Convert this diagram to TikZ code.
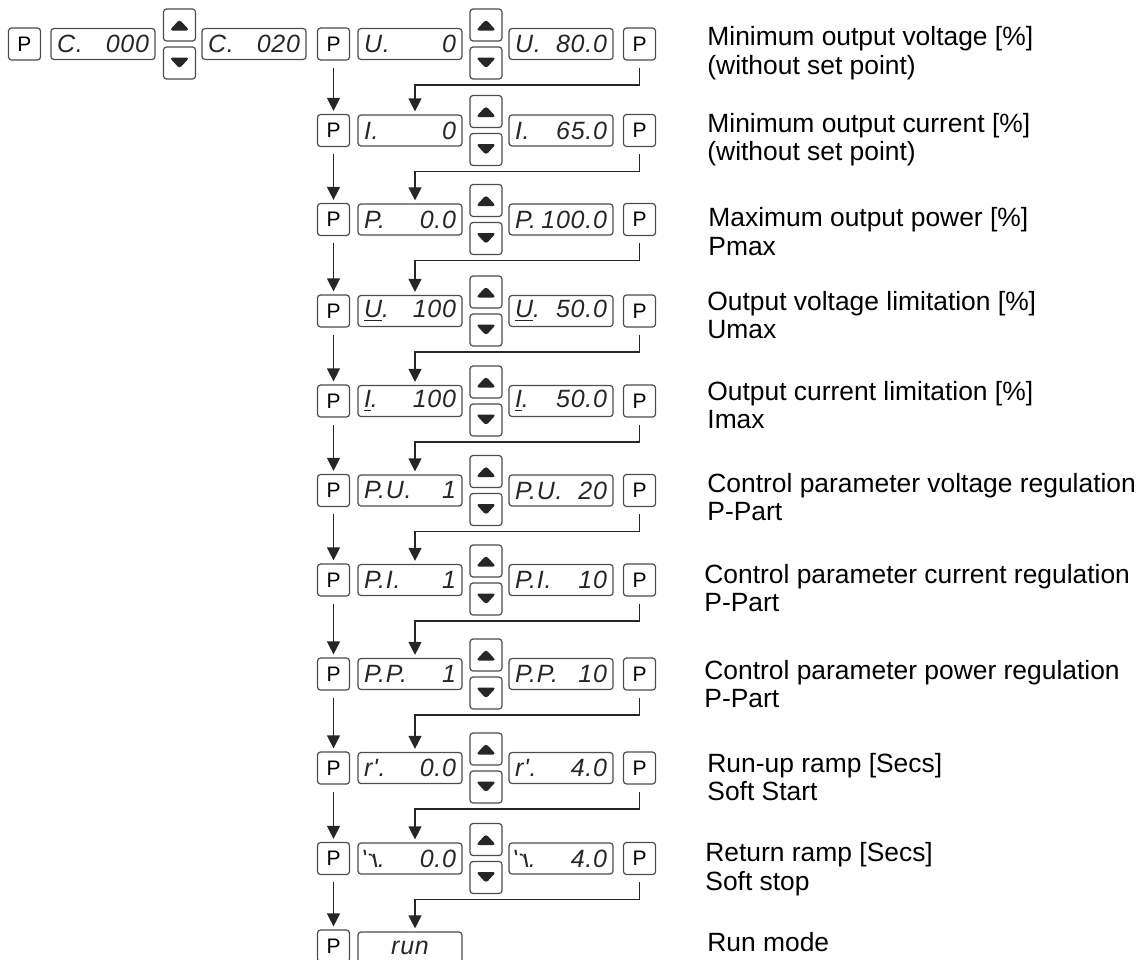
\documentclass[tikz,border=0pt]{standalone}
\usepackage{fontspec}
\setmainfont{Liberation Sans}
\newfontfamily\segfont[LetterSpace=3]{Liberation Sans}
\usepackage{graphicx}
\usetikzlibrary{arrows.meta}

\begin{document}
\begin{tikzpicture}[>={Triangle[length=6.5pt,width=6.5pt]}, x=0.5pt, y=-0.5pt,
  key/.style={draw=black!70, line width=0.6pt, rounded corners=1.5pt,
    minimum width=16pt, minimum height=16pt, inner sep=0pt, font=\fontsize{10.5}{10.5}\selectfont},
  upkey/.style={key, path picture={\fill[black!85]
    ([yshift=2.75pt]path picture bounding box.center) --
    ([xshift=5pt,yshift=-2.75pt]path picture bounding box.center) --
    ([xshift=-5pt,yshift=-2.75pt]path picture bounding box.center) -- cycle;}},
  downkey/.style={key, path picture={\fill[black!85]
    ([yshift=-2.75pt]path picture bounding box.center) --
    ([xshift=5pt,yshift=2.75pt]path picture bounding box.center) --
    ([xshift=-5pt,yshift=2.75pt]path picture bounding box.center) -- cycle;}},
  disp/.style={draw=black!70, line width=0.6pt, rounded corners=1.5pt,
    minimum width=52pt, minimum height=15.5pt, inner xsep=3pt, inner ysep=0pt,
    text width=46pt, align=left, text=black!85,
    font=\segfont\fontsize{12.5}{12.5}\selectfont\itshape},
  flow/.style={->, draw=black!85, line width=0.6pt, shorten <=3.5pt, shorten >=1.5pt},
  note/.style={anchor=base west, align=left, inner sep=0pt,
    font=\fontsize{13.2}{14.25}\selectfont}]
\useasboundingbox (0,0) rectangle (1143,959);

% Code
\node[key] (p0) at (24.5,44) {P};
\node[disp] (c0) at (103,44) {C.\hfill 000};
\node[upkey] (up0) at (179.5,25) {};
\node[downkey] (dn0) at (179.5,63) {};
\node[disp] (c1) at (254,44) {C.\hfill 020};

% Minimum output voltage
\node[key] (pl1) at (333.5,44) {P};
\node[disp] (dA1) at (410,44) {U.\hfill 0};
\node[upkey] (up1) at (486,25) {};
\node[downkey] (dn1) at (486,63) {};
\node[disp] (dB1) at (561,44) {U.\hfill 80.0};
\node[key] (pr1) at (639.5,44) {P};

% Minimum output current
\node[key] (pl2) at (333.5,130.5) {P};
\node[disp] (dA2) at (410,130.5) {I.\hfill 0};
\node[upkey] (up2) at (486,111.5) {};
\node[downkey] (dn2) at (486,149.5) {};
\node[disp] (dB2) at (561,130.5) {I.\hfill 65.0};
\node[key] (pr2) at (639.5,130.5) {P};

% Maximum output power
\node[key] (pl3) at (333.5,219.5) {P};
\node[disp] (dA3) at (410,219.5) {P.\hfill 0.0};
\node[upkey] (up3) at (486,200.5) {};
\node[downkey] (dn3) at (486,238.5) {};
\node[disp] (dB3) at (561,219.5) {\hbox to \linewidth{P.\hfill 100.0}};
\node[key] (pr3) at (639.5,219.5) {P};

% Output voltage limitation
\node[key] (pl4) at (333.5,311) {P};
\node[disp] (dA4) at (410,311) {\underline{U}.\hfill 100};
\node[upkey] (up4) at (486,292) {};
\node[downkey] (dn4) at (486,330) {};
\node[disp] (dB4) at (561,311) {\underline{U}.\hfill 50.0};
\node[key] (pr4) at (639.5,311) {P};

% Output current limitation
\node[key] (pl5) at (333.5,401) {P};
\node[disp] (dA5) at (410,401) {\underline{I}.\hfill 100};
\node[upkey] (up5) at (486,382) {};
\node[downkey] (dn5) at (486,420) {};
\node[disp] (dB5) at (561,401) {\underline{I}.\hfill 50.0};
\node[key] (pr5) at (639.5,401) {P};

% P-Part voltage
\node[key] (pl6) at (333.5,490.5) {P};
\node[disp] (dA6) at (410,490.5) {P.U.\hfill 1};
\node[upkey] (up6) at (486,471.5) {};
\node[downkey] (dn6) at (486,509.5) {};
\node[disp] (dB6) at (561,490.5) {P.U.\hfill 20};
\node[key] (pr6) at (639.5,490.5) {P};

% P-Part current
\node[key] (pl7) at (333.5,580) {P};
\node[disp] (dA7) at (410,580) {P.I.\hfill 1};
\node[upkey] (up7) at (486,561) {};
\node[downkey] (dn7) at (486,599) {};
\node[disp] (dB7) at (561,580) {P.I.\hfill 10};
\node[key] (pr7) at (639.5,580) {P};

% P-Part power
\node[key] (pl8) at (333.5,674) {P};
\node[disp] (dA8) at (410,674) {P.P.\hfill 1};
\node[upkey] (up8) at (486,655) {};
\node[downkey] (dn8) at (486,693) {};
\node[disp] (dB8) at (561,674) {P.P.\hfill 10};
\node[key] (pr8) at (639.5,674) {P};

% Run-up ramp
\node[key] (pl9) at (333.5,768) {P};
\node[disp] (dA9) at (410,768) {r'.\hfill 0.0};
\node[upkey] (up9) at (486,749) {};
\node[downkey] (dn9) at (486,787) {};
\node[disp] (dB9) at (561,768) {r'.\hfill 4.0};
\node[key] (pr9) at (639.5,768) {P};

% Return ramp
\node[key] (pl10) at (333.5,858.5) {P};
\node[disp] (dA10) at (410,858.5) {\reflectbox{r'}.\hfill 0.0};
\node[upkey] (up10) at (486,839.5) {};
\node[downkey] (dn10) at (486,877.5) {};
\node[disp] (dB10) at (561,858.5) {\reflectbox{r'}.\hfill 4.0};
\node[key] (pr10) at (639.5,858.5) {P};

% Run
\node[key] (pl11) at (333.5,946) {P};
\node[disp] (dA11) at (410,947.5) {\hfill run\hfill\null};

% Arrows
\foreach \i [count=\j from 2] in {1,...,10} {
  \draw[flow] (pl\i) -- (pl\j);
  \draw[flow] (pr\i) -- ++(0,41) -| ([xshift=2.5pt]dA\j.north);
}

% Labels (base = last line)
\node[note] (t1) at (707,74.2) {Minimum output voltage [\%]\\(without set point)};
\node[note] (t2) at (707,160.8) {Minimum output current [\%]\\(without set point)};
\node[note] (t3) at (708,255.2) {Maximum output power [\%]\\Pmax};
\node[note] (t4) at (707,338.5) {Output voltage limitation [\%]\\Umax};
\node[note] (t5) at (707,428.5) {Output current limitation [\%]\\Imax};
\node[note] (t6) at (707,520.8) {Control parameter voltage regulation\\P-Part};
\node[note] (t7) at (704,611.8) {Control parameter current regulation\\P-Part};
\node[note] (t8) at (704,707.5) {Control parameter power regulation\\P-Part};
\node[note] (t9) at (707,800.8) {Run-up ramp [Secs]\\Soft Start};
\node[note] (t10) at (705,890.2) {Return ramp [Secs]\\Soft stop};
\node[note] (t11) at (707,951.7) {Run mode};
\end{tikzpicture}
\end{document}
